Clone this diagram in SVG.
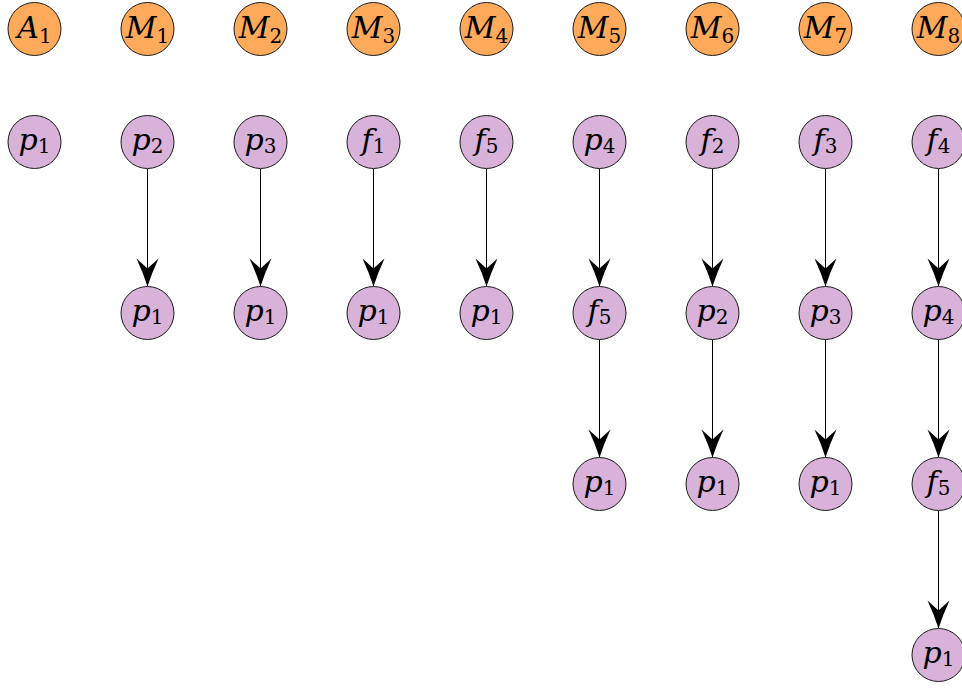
<svg xmlns="http://www.w3.org/2000/svg" width="962" height="688" viewBox="0 0 962 688">
  <style>
    .bg { fill: #ffffff; }
    .head circle { fill: #FFAA5A; stroke: #1a1a1a; stroke-width: 1; }
    .item circle { fill: #D9B2D9; stroke: #1a1a1a; stroke-width: 1; }
    .edge { stroke: #000; stroke-width: 1; fill: none; marker-end: url(#stealth); }
    .lbl { font-family: "DejaVu Serif", serif; font-size: 30px; text-anchor: middle; fill: #000; }
    .lbl .v { font-style: italic; }
    .lbl .s { font-size: 20px; font-style: normal; }
  </style>
  <defs>
    <marker id="stealth" markerUnits="userSpaceOnUse" markerWidth="32" markerHeight="26" viewBox="-30 -13 32 26" refX="0" refY="0" orient="auto">
      <path d="M0,0 Q-14,-4.5 -28,-11 L-18,0 L-28,11 Q-14,4.5 0,0 Z" fill="#000"/>
    </marker>
  </defs>
  <rect class="bg" x="0" y="0" width="962" height="688"/>

  <!-- connectors: columns at x = 34.5 + 113*i; rows at y = 29, 142, 313, 484, 655 -->
  <g id="connectors">
    <line class="edge" x1="147.5" y1="168.5" x2="147.5" y2="286.5"/>
    <line class="edge" x1="260.5" y1="168.5" x2="260.5" y2="286.5"/>
    <line class="edge" x1="373.5" y1="168.5" x2="373.5" y2="286.5"/>
    <line class="edge" x1="486.5" y1="168.5" x2="486.5" y2="286.5"/>
    <line class="edge" x1="599.5" y1="168.5" x2="599.5" y2="286.5"/>
    <line class="edge" x1="599.5" y1="339.5" x2="599.5" y2="457.5"/>
    <line class="edge" x1="712.5" y1="168.5" x2="712.5" y2="286.5"/>
    <line class="edge" x1="712.5" y1="339.5" x2="712.5" y2="457.5"/>
    <line class="edge" x1="825.5" y1="168.5" x2="825.5" y2="286.5"/>
    <line class="edge" x1="825.5" y1="339.5" x2="825.5" y2="457.5"/>
    <line class="edge" x1="938.5" y1="168.5" x2="938.5" y2="286.5"/>
    <line class="edge" x1="938.5" y1="339.5" x2="938.5" y2="457.5"/>
    <line class="edge" x1="938.5" y1="510.5" x2="938.5" y2="628.5"/>
  </g>

  <!-- header row -->
  <g id="A1" class="head"><circle cx="34.5" cy="29" r="26.5"/><text class="lbl" x="34.5" y="38"><tspan class="v">A</tspan><tspan class="s" dy="5">1</tspan></text></g>
  <g id="M1" class="head"><circle cx="147.5" cy="29" r="26.5"/><text class="lbl" x="147.5" y="38"><tspan class="v">M</tspan><tspan class="s" dy="5">1</tspan></text></g>
  <g id="M2" class="head"><circle cx="260.5" cy="29" r="26.5"/><text class="lbl" x="260.5" y="38"><tspan class="v">M</tspan><tspan class="s" dy="5">2</tspan></text></g>
  <g id="M3" class="head"><circle cx="373.5" cy="29" r="26.5"/><text class="lbl" x="373.5" y="38"><tspan class="v">M</tspan><tspan class="s" dy="5">3</tspan></text></g>
  <g id="M4" class="head"><circle cx="486.5" cy="29" r="26.5"/><text class="lbl" x="486.5" y="38"><tspan class="v">M</tspan><tspan class="s" dy="5">4</tspan></text></g>
  <g id="M5" class="head"><circle cx="599.5" cy="29" r="26.5"/><text class="lbl" x="599.5" y="38"><tspan class="v">M</tspan><tspan class="s" dy="5">5</tspan></text></g>
  <g id="M6" class="head"><circle cx="712.5" cy="29" r="26.5"/><text class="lbl" x="712.5" y="38"><tspan class="v">M</tspan><tspan class="s" dy="5">6</tspan></text></g>
  <g id="M7" class="head"><circle cx="825.5" cy="29" r="26.5"/><text class="lbl" x="825.5" y="38"><tspan class="v">M</tspan><tspan class="s" dy="5">7</tspan></text></g>
  <g id="M8" class="head"><circle cx="938.5" cy="29" r="26.5"/><text class="lbl" x="938.5" y="38"><tspan class="v">M</tspan><tspan class="s" dy="5">8</tspan></text></g>

  <!-- row 1 -->
  <g id="n1_0" class="item"><circle cx="34.5" cy="142" r="26.5"/><text class="lbl" x="34.5" y="150"><tspan class="v">p</tspan><tspan class="s" dy="3">1</tspan></text></g>
  <g id="n1_1" class="item"><circle cx="147.5" cy="142" r="26.5"/><text class="lbl" x="147.5" y="150"><tspan class="v">p</tspan><tspan class="s" dy="3">2</tspan></text></g>
  <g id="n1_2" class="item"><circle cx="260.5" cy="142" r="26.5"/><text class="lbl" x="260.5" y="150"><tspan class="v">p</tspan><tspan class="s" dy="3">3</tspan></text></g>
  <g id="n1_3" class="item"><circle cx="373.5" cy="142" r="26.5"/><text class="lbl" x="373.5" y="150"><tspan class="v">f</tspan><tspan class="s" dy="3">1</tspan></text></g>
  <g id="n1_4" class="item"><circle cx="486.5" cy="142" r="26.5"/><text class="lbl" x="486.5" y="150"><tspan class="v">f</tspan><tspan class="s" dy="3">5</tspan></text></g>
  <g id="n1_5" class="item"><circle cx="599.5" cy="142" r="26.5"/><text class="lbl" x="599.5" y="150"><tspan class="v">p</tspan><tspan class="s" dy="3">4</tspan></text></g>
  <g id="n1_6" class="item"><circle cx="712.5" cy="142" r="26.5"/><text class="lbl" x="712.5" y="150"><tspan class="v">f</tspan><tspan class="s" dy="3">2</tspan></text></g>
  <g id="n1_7" class="item"><circle cx="825.5" cy="142" r="26.5"/><text class="lbl" x="825.5" y="150"><tspan class="v">f</tspan><tspan class="s" dy="3">3</tspan></text></g>
  <g id="n1_8" class="item"><circle cx="938.5" cy="142" r="26.5"/><text class="lbl" x="938.5" y="150"><tspan class="v">f</tspan><tspan class="s" dy="3">4</tspan></text></g>

  <!-- row 2 -->
  <g id="n2_1" class="item"><circle cx="147.5" cy="313" r="26.5"/><text class="lbl" x="147.5" y="321"><tspan class="v">p</tspan><tspan class="s" dy="3">1</tspan></text></g>
  <g id="n2_2" class="item"><circle cx="260.5" cy="313" r="26.5"/><text class="lbl" x="260.5" y="321"><tspan class="v">p</tspan><tspan class="s" dy="3">1</tspan></text></g>
  <g id="n2_3" class="item"><circle cx="373.5" cy="313" r="26.5"/><text class="lbl" x="373.5" y="321"><tspan class="v">p</tspan><tspan class="s" dy="3">1</tspan></text></g>
  <g id="n2_4" class="item"><circle cx="486.5" cy="313" r="26.5"/><text class="lbl" x="486.5" y="321"><tspan class="v">p</tspan><tspan class="s" dy="3">1</tspan></text></g>
  <g id="n2_5" class="item"><circle cx="599.5" cy="313" r="26.5"/><text class="lbl" x="599.5" y="321"><tspan class="v">f</tspan><tspan class="s" dy="3">5</tspan></text></g>
  <g id="n2_6" class="item"><circle cx="712.5" cy="313" r="26.5"/><text class="lbl" x="712.5" y="321"><tspan class="v">p</tspan><tspan class="s" dy="3">2</tspan></text></g>
  <g id="n2_7" class="item"><circle cx="825.5" cy="313" r="26.5"/><text class="lbl" x="825.5" y="321"><tspan class="v">p</tspan><tspan class="s" dy="3">3</tspan></text></g>
  <g id="n2_8" class="item"><circle cx="938.5" cy="313" r="26.5"/><text class="lbl" x="938.5" y="321"><tspan class="v">p</tspan><tspan class="s" dy="3">4</tspan></text></g>

  <!-- row 3 -->
  <g id="n3_5" class="item"><circle cx="599.5" cy="484" r="26.5"/><text class="lbl" x="599.5" y="492"><tspan class="v">p</tspan><tspan class="s" dy="3">1</tspan></text></g>
  <g id="n3_6" class="item"><circle cx="712.5" cy="484" r="26.5"/><text class="lbl" x="712.5" y="492"><tspan class="v">p</tspan><tspan class="s" dy="3">1</tspan></text></g>
  <g id="n3_7" class="item"><circle cx="825.5" cy="484" r="26.5"/><text class="lbl" x="825.5" y="492"><tspan class="v">p</tspan><tspan class="s" dy="3">1</tspan></text></g>
  <g id="n3_8" class="item"><circle cx="938.5" cy="484" r="26.5"/><text class="lbl" x="938.5" y="492"><tspan class="v">f</tspan><tspan class="s" dy="3">5</tspan></text></g>

  <!-- row 4 -->
  <g id="n4_8" class="item"><circle cx="938.5" cy="655" r="26.5"/><text class="lbl" x="938.5" y="663"><tspan class="v">p</tspan><tspan class="s" dy="3">1</tspan></text></g>
</svg>
